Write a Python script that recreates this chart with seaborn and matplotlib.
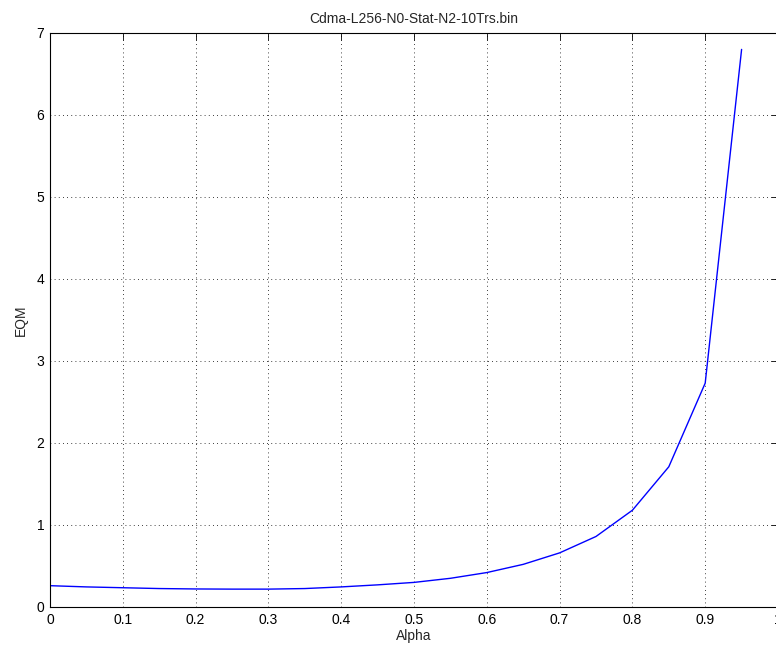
import matplotlib
matplotlib.use("Agg")
import matplotlib.pyplot as plt
import seaborn as sns
import pandas as pd

alpha = [0.0, 0.05, 0.1, 0.15, 0.2, 0.25, 0.3, 0.35, 0.4, 0.45, 0.5,
         0.55, 0.6, 0.65, 0.7, 0.75, 0.8, 0.85, 0.9, 0.95]
eqm = [0.26, 0.245, 0.235, 0.225, 0.22, 0.218, 0.218, 0.225, 0.245, 0.27, 0.30,
       0.35, 0.42, 0.52, 0.66, 0.86, 1.18, 1.71, 2.73, 6.80]
xticks = [0, 0.1, 0.2, 0.3, 0.4, 0.5, 0.6, 0.7, 0.8, 0.9, 1]
xtick_labels = ["0", "0.1", "0.2", "0.3", "0.4", "0.5", "0.6", "0.7", "0.8", "0.9", "1"]
yticks = [0, 1, 2, 3, 4, 5, 6, 7]

sns.set_style("white")
plt.rcParams['font.family'] = ['Liberation Sans', 'DejaVu Sans']

df = pd.DataFrame({"Alpha": alpha, "EQM": eqm})

fig = plt.figure(figsize=(7.76, 6.51), dpi=100)
ax = fig.add_axes([50 / 776, 1 - 607 / 651, 728 / 776, 574 / 651])
sns.lineplot(data=df, x="Alpha", y="EQM", ax=ax, color=(0, 0, 1), linewidth=1.0)

ax.set_xlim(0, 1)
ax.set_ylim(0, 7)
ax.set_xticks(xticks)
ax.set_xticklabels(xtick_labels)
ax.set_yticks(yticks)
ax.tick_params(direction="in", top=True, right=True, length=5, width=0.6,
               labelsize=10, colors="black", pad=4)
ax.grid(True, linestyle=(0, (1, 4)), color="black", linewidth=0.6)
for s in ax.spines.values():
    s.set_color("black")
    s.set_linewidth(0.8)
ax.set_xlabel("Alpha", fontsize=10, labelpad=2)
ax.set_ylabel("EQM", fontsize=10, labelpad=6)
ax.set_title("Cdma-L256-N0-Stat-N2-10Trs.bin", fontsize=10, pad=7)

fig.savefig("out.png", dpi=100)
